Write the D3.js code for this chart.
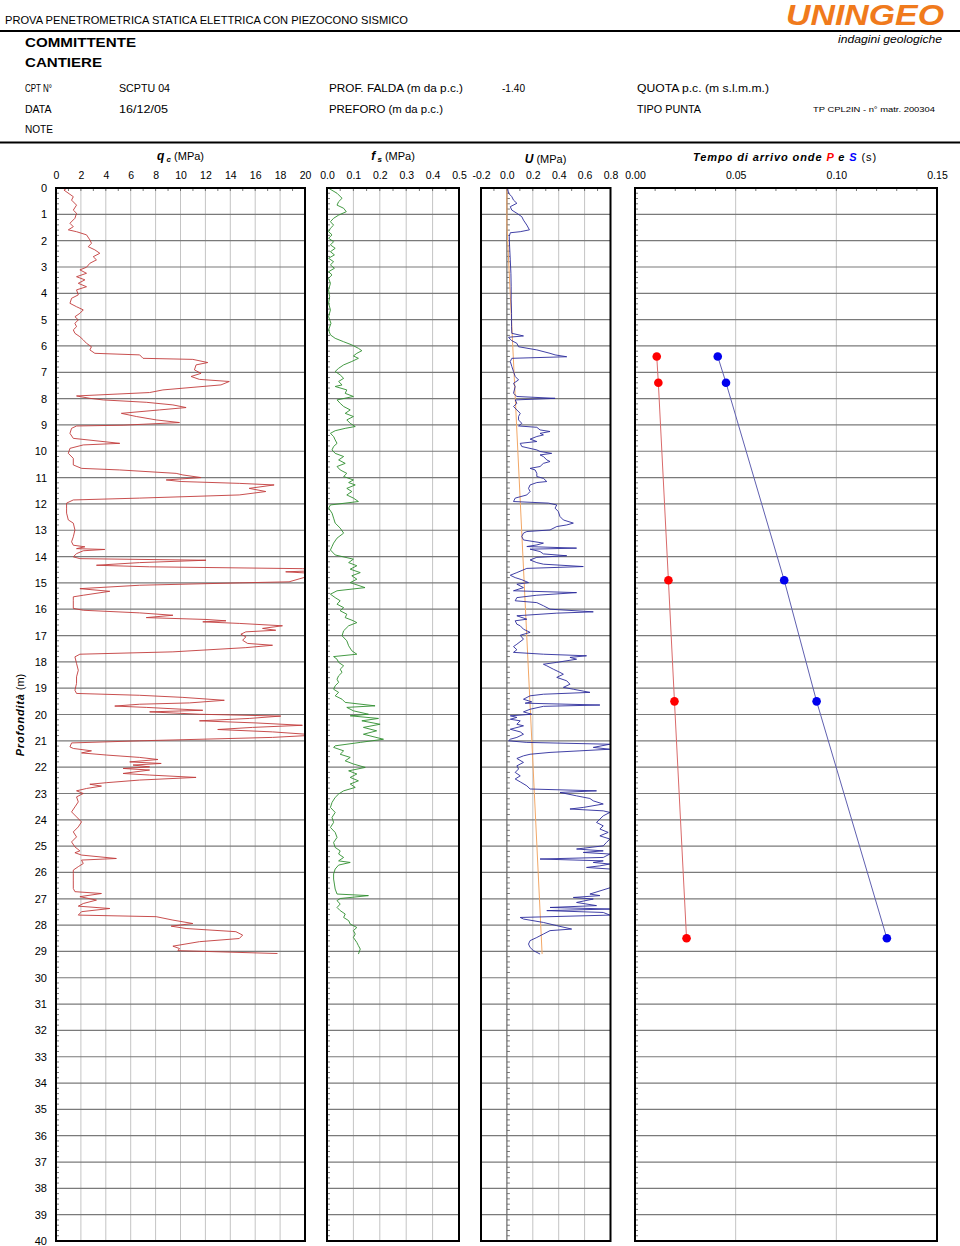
<!DOCTYPE html>
<html><head><meta charset="utf-8">
<script src="https://cdn.jsdelivr.net/npm/d3@7"></script>
<style>
body{margin:0;background:#fff}
svg{display:block}
text{font-family:"Liberation Sans",Arial,Helvetica,sans-serif;fill:#000}
</style>
</head><body>
<svg id="chart" width="960" height="1246"></svg>
<script>
// ---------------- DATA ----------------
const depthTickLabels = d3.range(0, 41);
const qcTickLabels = ["0","2","4","6","8","10","12","14","16","18","20"];
const fsTickLabels = ["0.0","0.1","0.2","0.3","0.4","0.5"];
const uTickLabels = ["-0.2","0.0","0.2","0.4","0.6","0.8"];
const tTickLabels = ["0.00","0.05","0.10","0.15"];

const qcDepth = [0.00,0.08,0.33,0.46,0.65,0.84,0.96,1.15,1.34,1.47,1.59,1.66,1.78,1.97,2.10,2.23,2.35,2.48,2.61,2.73,2.86,3.01,3.11,3.24,3.37,3.49,3.62,3.75,3.87,4.06,4.19,4.38,4.51,4.63,4.76,4.89,5.01,5.14,5.27,5.39,5.52,5.65,5.77,5.90,6.03,6.15,6.28,6.34,6.47,6.51,6.63,6.72,6.91,7.04,7.16,7.27,7.35,7.48,7.67,7.77,7.90,7.99,8.05,8.14,8.24,8.34,8.43,8.56,8.68,8.81,8.91,9.01,9.04,9.13,9.32,9.51,9.70,9.76,9.89,10.08,10.27,10.52,10.65,10.71,10.84,10.90,11.00,11.09,11.15,11.22,11.28,11.41,11.53,11.66,11.78,11.85,11.97,12.16,12.35,12.61,12.73,12.99,13.25,13.44,13.57,13.63,13.70,13.73,13.78,13.89,14.01,14.08,14.14,14.23,14.33,14.39,14.46,14.52,14.58,14.65,14.96,15.00,15.09,15.22,15.32,15.47,15.53,15.66,15.97,16.04,16.14,16.23,16.32,16.39,16.44,16.48,16.54,16.63,16.73,16.80,16.86,16.95,17.05,17.18,17.30,17.37,17.46,17.62,17.71,17.81,18.06,18.32,18.57,18.82,19.08,19.20,19.27,19.35,19.46,19.56,19.61,19.68,19.73,19.84,19.90,19.99,20.06,20.15,20.24,20.32,20.41,20.49,20.57,20.66,20.78,20.87,21.00,21.08,21.23,21.29,21.38,21.46,21.54,21.63,21.71,21.80,21.86,21.92,21.99,22.05,22.11,22.24,22.30,22.39,22.49,22.59,22.65,22.72,22.81,22.90,23.00,23.13,23.32,23.51,23.70,23.89,24.08,24.27,24.46,24.65,24.84,25.03,25.18,25.25,25.34,25.47,25.53,25.66,25.78,25.91,26.04,26.29,26.61,26.73,26.80,26.92,27.05,27.18,27.28,27.37,27.49,27.62,27.68,27.81,27.94,28.04,28.13,28.25,28.38,28.51,28.63,28.80,28.89,28.97,29.08];
const qcValue = [0.90,0.64,1.39,1.25,1.65,1.39,1.65,1.52,1.12,1.39,0.99,1.65,2.45,2.72,2.85,2.59,3.12,3.52,2.99,3.25,2.72,2.45,1.92,2.45,1.65,2.32,1.79,2.45,1.65,1.79,1.25,1.12,1.65,2.19,1.92,1.52,1.79,1.52,1.65,1.39,1.52,1.92,2.19,2.45,2.85,2.72,3.12,6.72,6.99,10.99,12.19,11.25,11.12,11.65,10.85,11.52,13.92,13.25,8.59,7.52,1.65,2.72,3.79,7.25,9.39,10.45,8.32,5.25,6.45,8.05,9.92,5.39,1.65,1.25,1.12,1.39,5.12,2.19,1.12,0.99,1.39,1.39,2.05,5.12,9.65,10.19,11.65,8.85,10.05,14.72,17.52,15.52,16.85,14.72,6.72,1.39,0.85,0.85,0.85,0.99,1.39,1.52,1.39,1.25,1.39,2.32,1.65,3.92,2.19,1.65,1.39,1.92,12.05,6.72,3.25,7.52,19.79,22.0,18.45,21.0,18.72,14.72,6.72,1.92,4.32,2.19,1.39,1.39,1.39,2.19,6.72,9.39,7.25,12.05,13.65,11.79,14.72,18.19,16.59,17.65,15.25,14.85,15.25,14.99,15.39,17.39,15.25,9.39,1.92,1.52,1.65,1.79,1.65,1.65,1.52,1.65,6.72,10.19,13.52,10.72,6.72,4.72,7.25,11.79,7.52,11.52,18.05,15.52,11.52,16.05,19.79,15.79,12.99,17.39,21.0,17.39,6.72,1.25,1.12,1.39,2.85,2.05,4.05,6.72,8.19,5.92,8.45,6.19,7.52,5.39,7.52,5.39,7.52,11.25,6.72,4.05,2.72,3.65,2.45,1.65,2.19,1.65,1.79,1.52,1.25,1.65,2.05,1.79,1.39,1.65,1.25,1.52,1.92,1.52,2.05,4.85,2.05,2.19,1.79,1.39,1.39,1.39,1.39,1.52,3.65,1.92,3.25,2.19,1.79,4.32,2.05,1.79,8.05,9.39,10.99,9.25,10.45,14.45,14.99,14.72,11.52,9.39,9.92,9.79,17.79];

const fsDepth = [0.01,0.20,0.39,0.52,0.65,0.77,0.90,1.03,1.15,1.28,1.41,1.53,1.66,1.78,1.91,2.04,2.16,2.29,2.42,2.54,2.67,2.80,2.92,3.05,3.18,3.30,3.43,3.62,3.87,4.13,4.38,4.63,4.89,5.14,5.39,5.58,5.71,5.84,5.96,6.09,6.18,6.28,6.38,6.47,6.59,6.72,6.85,6.97,7.10,7.23,7.35,7.48,7.54,7.67,7.80,7.92,8.05,8.18,8.30,8.43,8.56,8.68,8.81,8.94,9.06,9.13,9.22,9.32,9.44,9.57,9.70,9.82,9.95,10.08,10.20,10.33,10.46,10.58,10.71,10.84,10.96,11.09,11.19,11.28,11.41,11.53,11.66,11.78,11.91,12.04,12.16,12.35,12.54,12.73,12.92,13.11,13.30,13.49,13.62,13.75,13.94,14.10,14.23,14.35,14.48,14.61,14.73,14.86,14.99,15.18,15.30,15.43,15.56,15.68,15.81,15.94,16.06,16.19,16.32,16.44,16.51,16.63,16.82,17.01,17.20,17.39,17.58,17.71,17.80,17.90,18.02,18.15,18.28,18.40,18.53,18.66,18.78,18.91,19.04,19.16,19.29,19.42,19.54,19.67,19.73,19.86,19.99,20.05,20.15,20.24,20.37,20.49,20.62,20.75,20.94,21.06,21.19,21.25,21.38,21.51,21.63,21.76,21.88,22.01,22.14,22.26,22.39,22.52,22.64,22.77,22.90,23.02,23.15,23.34,23.53,23.72,23.91,24.10,24.29,24.48,24.67,24.86,25.05,25.18,25.30,25.43,25.56,25.62,25.72,25.87,26.06,26.25,26.44,26.63,26.82,26.88,26.99,27.07,27.20,27.33,27.45,27.58,27.71,27.83,27.96,28.09,28.21,28.34,28.47,28.66,28.78,28.91,29.10];
const fsValue = [0.006,0.038,0.057,0.044,0.038,0.063,0.073,0.044,0.025,0.013,0.025,0.013,0.006,0.019,0.006,0.025,0.013,0.031,0.013,0.028,0.006,0.025,0.013,0.028,0.006,0.019,0.006,0.013,0.006,0.010,0.006,0.013,0.006,0.015,0.006,0.013,0.031,0.063,0.094,0.119,0.132,0.113,0.100,0.119,0.094,0.063,0.044,0.031,0.050,0.063,0.044,0.057,0.031,0.075,0.069,0.100,0.038,0.050,0.063,0.088,0.069,0.100,0.075,0.088,0.107,0.069,0.031,0.013,0.025,0.031,0.038,0.025,0.019,0.031,0.063,0.044,0.069,0.038,0.050,0.075,0.063,0.100,0.082,0.107,0.075,0.094,0.075,0.100,0.119,0.013,0.006,0.019,0.025,0.031,0.050,0.063,0.038,0.025,0.019,0.013,0.031,0.100,0.082,0.113,0.088,0.126,0.094,0.113,0.088,0.144,0.038,0.013,0.031,0.050,0.038,0.063,0.050,0.075,0.069,0.100,0.113,0.082,0.063,0.057,0.075,0.082,0.094,0.113,0.025,0.038,0.044,0.063,0.050,0.057,0.044,0.038,0.044,0.031,0.025,0.044,0.031,0.057,0.069,0.182,0.075,0.100,0.157,0.088,0.195,0.132,0.201,0.138,0.188,0.138,0.214,0.126,0.031,0.025,0.063,0.050,0.088,0.069,0.100,0.145,0.082,0.113,0.088,0.119,0.088,0.107,0.063,0.044,0.031,0.019,0.013,0.031,0.019,0.025,0.013,0.031,0.038,0.025,0.031,0.050,0.044,0.063,0.044,0.088,0.044,0.031,0.025,0.025,0.028,0.031,0.038,0.157,0.050,0.038,0.050,0.038,0.050,0.069,0.063,0.082,0.088,0.113,0.100,0.107,0.100,0.113,0.119,0.126,0.119];

const uDepth = [0.01,0.20,0.33,0.46,0.58,0.71,0.84,0.96,1.09,1.22,1.41,1.59,1.66,1.70,1.85,2.23,2.73,3.24,3.75,4.25,4.76,5.27,5.52,5.62,5.67,5.75,5.80,5.90,6.03,6.15,6.28,6.34,6.41,6.47,6.59,6.78,6.97,7.16,7.29,7.42,7.54,7.80,7.92,7.99,8.05,8.18,8.30,8.43,8.56,8.68,8.81,8.94,9.04,9.09,9.19,9.25,9.32,9.38,9.44,9.54,9.63,9.70,9.82,9.95,10.01,10.08,10.14,10.20,10.33,10.39,10.46,10.58,10.65,10.71,10.84,10.96,11.03,11.15,11.19,11.28,11.41,11.53,11.66,11.78,11.91,11.97,12.04,12.16,12.29,12.48,12.61,12.73,12.80,12.86,12.99,13.05,13.11,13.24,13.37,13.49,13.56,13.62,13.68,13.72,13.81,13.90,13.97,14.03,14.13,14.23,14.29,14.38,14.45,14.61,14.71,14.80,14.88,14.99,15.05,15.18,15.30,15.37,15.47,15.56,15.68,15.75,15.87,16.00,16.10,16.15,16.25,16.38,16.44,16.57,16.63,16.76,16.88,16.99,17.14,17.33,17.42,17.54,17.64,17.71,17.77,17.83,17.90,18.02,18.09,18.15,18.28,18.40,18.47,18.59,18.72,18.85,18.97,19.04,19.16,19.23,19.29,19.42,19.52,19.57,19.64,19.69,19.80,19.90,19.99,20.05,20.11,20.18,20.24,20.37,20.43,20.56,20.66,20.75,20.87,20.94,21.00,21.06,21.13,21.25,21.32,21.38,21.44,21.51,21.57,21.67,21.82,21.95,22.07,22.20,22.33,22.45,22.56,22.71,22.83,22.90,22.96,23.09,23.19,23.28,23.40,23.53,23.59,23.66,23.72,23.85,24.10,24.23,24.35,24.48,24.61,24.73,24.86,24.99,25.11,25.18,25.24,25.30,25.43,25.49,25.56,25.62,25.68,25.75,25.81,25.87,26.00,26.50,26.82,26.88,26.95,27.01,27.14,27.26,27.33,27.39,27.45,27.52,27.62,27.71,27.77,27.90,28.02,28.15,28.21,28.34,28.47,28.59,28.72,28.85,28.97,29.10];
const uValue = [0.005,0.013,0.038,0.051,0.077,0.026,0.038,0.077,0.115,0.128,0.154,0.174,0.103,0.026,0.018,0.021,0.026,0.031,0.033,0.033,0.036,0.036,0.038,0.128,0.013,0.026,0.038,0.077,0.090,0.231,0.333,0.372,0.462,0.038,0.026,0.038,0.051,0.064,0.090,0.051,0.064,0.051,0.077,0.372,0.064,0.077,0.051,0.077,0.103,0.090,0.090,0.115,0.090,0.231,0.256,0.333,0.256,0.282,0.231,0.179,0.231,0.103,0.115,0.231,0.256,0.346,0.256,0.282,0.308,0.333,0.282,0.256,0.179,0.218,0.231,0.231,0.282,0.308,0.231,0.179,0.167,0.179,0.154,0.064,0.051,0.321,0.385,0.372,0.397,0.410,0.436,0.513,0.462,0.385,0.333,0.154,0.128,0.115,0.128,0.282,0.231,0.154,0.538,0.179,0.256,0.282,0.462,0.231,0.179,0.231,0.282,0.590,0.154,0.077,0.026,0.064,0.115,0.167,0.077,0.128,0.051,0.538,0.231,0.077,0.064,0.231,0.282,0.333,0.667,0.385,0.077,0.154,0.064,0.077,0.103,0.128,0.179,0.103,0.128,0.077,0.051,0.077,0.051,0.282,0.615,0.487,0.538,0.385,0.282,0.308,0.359,0.410,0.436,0.385,0.462,0.487,0.436,0.513,0.641,0.282,0.179,0.128,0.192,0.141,0.718,0.282,0.179,0.128,0.192,0.026,0.077,0.026,0.103,0.077,0.128,0.026,0.103,0.128,0.077,0.026,0.013,0.154,0.795,0.667,0.795,0.564,0.333,0.179,0.128,0.077,0.128,0.077,0.090,0.064,0.103,0.064,0.103,0.154,0.179,0.692,0.410,0.538,0.641,0.667,0.744,0.590,0.487,0.744,0.795,0.744,0.692,0.744,0.718,0.782,0.718,0.795,0.769,0.744,0.538,0.744,0.590,0.795,0.744,0.256,0.744,0.667,0.795,0.718,0.615,0.795,0.850,0.850,0.641,0.718,0.513,0.667,0.538,0.692,0.333,0.795,0.308,0.744,0.795,0.103,0.128,0.282,0.385,0.500,0.333,0.282,0.231,0.179,0.167,0.179,0.205,0.256];

const hydroDepth = [0, 1.4, 29.1];
const hydroValue = [0, 0, 0.272];

const seisDepth = [6.4, 7.4, 14.9, 19.5, 28.5];
const tP = [0.0108, 0.0116, 0.0166, 0.0196, 0.0256];
const tS = [0.0411, 0.0452, 0.0741, 0.0902, 0.1251];

// ---------------- LAYOUT ----------------
const svg = d3.select("#chart");
const FONT = '"Liberation Sans",Arial,Helvetica,sans-serif';
const y = d3.scaleLinear().domain([0, 40]).range([188, 1241]);

// Header
function htext(str, x, yy, opts = {}) {
  const t = svg.append("text").attr("x", x).attr("y", yy)
    .attr("font-size", opts.size || 10.5)
    .attr("font-weight", opts.weight || "normal")
    .attr("font-style", opts.style || "normal")
    .attr("text-anchor", opts.anchor || "start")
    .style("fill", opts.fill || "#000")
    .text(str);
  if (opts.len) t.attr("textLength", opts.len).attr("lengthAdjust", "spacingAndGlyphs");
  return t;
}
htext("PROVA PENETROMETRICA STATICA ELETTRICA CON PIEZOCONO SISMICO", 5, 24, {size: 11.5, len: 403});
htext("UNINGEO", 786, 25, {size: 29, weight: "bold", style: "italic", fill: "#f07a1c", len: 158});
svg.append("line").attr("x1", 0).attr("x2", 960).attr("y1", 31).attr("y2", 31).attr("stroke", "#000").attr("stroke-width", 2);
htext("indagini geologiche", 838, 43, {size: 11.5, style: "italic", len: 104});
htext("COMMITTENTE", 25, 47, {size: 13, weight: "bold", len: 111});
htext("CANTIERE", 25, 66.5, {size: 13, weight: "bold", len: 77});
htext("CPT N°", 25, 92, {size: 10.5, len: 27});
htext("SCPTU 04", 119, 92, {size: 10.5, len: 51});
htext("PROF. FALDA (m da p.c.)", 329, 92, {size: 10.5, len: 134});
htext("-1.40", 502, 92, {size: 10.5, len: 23});
htext("QUOTA p.c. (m s.l.m.m.)", 637, 92, {size: 10.5, len: 132});
htext("DATA", 25, 112.5, {size: 10.5, len: 26.5});
htext("16/12/05", 119, 112.5, {size: 10.5, len: 49});
htext("PREFORO (m da p.c.)", 329, 112.5, {size: 10.5, len: 114});
htext("TIPO PUNTA", 637, 112.5, {size: 10.5, len: 64});
htext("TP CPL2IN - n° matr. 200304", 813, 112, {size: 8, len: 122});
htext("NOTE", 25, 132.5, {size: 10.5, len: 28});
svg.append("line").attr("x1", 0).attr("x2", 960).attr("y1", 142.5).attr("y2", 142.5).attr("stroke", "#000").attr("stroke-width", 2);

// Panels
const panels = [
  {key: "qc", x0: 56, x1: 305, domain: [0, 20], labels: qcTickLabels, grid: d3.range(2, 20, 2), minor: d3.range(1, 20, 1), axisAt: 0},
  {key: "fs", x0: 327, x1: 459, domain: [0, 0.5], labels: fsTickLabels, grid: [0.1, 0.2, 0.3, 0.4], minor: d3.range(0.05, 0.5, 0.05), axisAt: 0},
  {key: "u", x0: 481, x1: 610.5, domain: [-0.2, 0.8], labels: uTickLabels, grid: [0, 0.2, 0.4, 0.6], minor: d3.range(-0.1, 0.8, 0.1), axisAt: 0},
  {key: "t", x0: 635, x1: 937, domain: [0, 0.15], labels: tTickLabels, grid: [0.05, 0.10], minor: d3.range(0.01, 0.15, 0.01), axisAt: 0}
];
panels.forEach(p => {
  p.x = d3.scaleLinear().domain(p.domain).range([p.x0, p.x1]);
  const g = svg.append("g");
  p.g = g;
  svg.append("clipPath").attr("id", "clip-" + p.key)
    .append("rect").attr("x", p.x0).attr("y", y(0)).attr("width", p.x1 - p.x0).attr("height", y(40) - y(0));
  g.selectAll(".vg").data(p.grid).join("line")
    .attr("x1", d => p.x(d)).attr("x2", d => p.x(d))
    .attr("y1", y(0)).attr("y2", y(40))
    .attr("stroke", "#c4c4c4").attr("stroke-width", 1);
  g.selectAll(".hg").data(d3.range(1, 40)).join("line")
    .attr("x1", p.x0).attr("x2", p.x1)
    .attr("y1", d => y(d)).attr("y2", d => y(d))
    .attr("stroke", "#7a7a7a").attr("stroke-width", 1.2);
  const ax = p.x(p.axisAt);
  g.selectAll(".mt").data(d3.range(0, 40.01, 0.2).filter(d => Math.abs(d - Math.round(d)) > 0.01)).join("line")
    .attr("x1", ax).attr("x2", ax + 3)
    .attr("y1", d => y(d)).attr("y2", d => y(d))
    .attr("stroke", "#555").attr("stroke-width", 0.8);
  if (p.key === "u") {
    g.append("line").attr("x1", ax).attr("x2", ax).attr("y1", y(0)).attr("y2", y(40))
      .attr("stroke", "#666").attr("stroke-width", 1);
  }
  g.selectAll(".tt").data(p.minor).join("line")
    .attr("x1", d => p.x(d)).attr("x2", d => p.x(d))
    .attr("y1", y(0)).attr("y2", y(0) + 3)
    .attr("stroke", "#555").attr("stroke-width", 0.8);
  const tickVals = p.labels.map(Number);
  const axis = d3.axisTop(p.x).tickValues(tickVals).tickSize(0).tickPadding(0)
    .tickFormat((d, i) => p.labels[i]);
  const ag = svg.append("g").attr("transform", "translate(0,179)").call(axis);
  ag.select(".domain").remove();
  ag.selectAll("text").attr("font-family", FONT).attr("font-size", 10.5).attr("dy", 0).style("fill", "#000");
});

// Depth axis labels
const yAxis = d3.axisLeft(y).tickValues(depthTickLabels).tickSize(0).tickPadding(0).tickFormat(d3.format("d"));
const yg = svg.append("g").attr("transform", "translate(47,0)").call(yAxis);
yg.select(".domain").remove();
yg.selectAll("text").attr("font-family", FONT).attr("font-size", 11).style("fill", "#000");

// Y title
const yt = svg.append("text").attr("transform", "translate(24,715) rotate(-90)")
  .attr("text-anchor", "middle").attr("font-size", 11);
yt.append("tspan").attr("font-weight", "bold").attr("font-style", "italic").attr("letter-spacing", 0.8).text("Profondità");
yt.append("tspan").text(" (m)");

// Panel titles
function title(cx, yy, parts) {
  const t = svg.append("text").attr("x", cx).attr("y", yy).attr("text-anchor", "middle").attr("font-size", 11);
  parts.forEach(pt => {
    const s = t.append("tspan").text(pt.t);
    if (pt.b) s.attr("font-weight", "bold");
    if (pt.i) s.attr("font-style", "italic");
    if (pt.fill) s.style("fill", pt.fill);
    if (pt.size) s.attr("font-size", pt.size);
    if (pt.dy) s.attr("dy", pt.dy);
    if (pt.ls) s.attr("letter-spacing", pt.ls);
  });
  return t;
}
title(180.5, 160, [{t: "q", b: 1, i: 1, size: 12}, {t: " c", b: 1, i: 1, size: 8, dy: 2}, {t: " (MPa)", dy: -2}]);
title(393, 160, [{t: "f", b: 1, i: 1, size: 12}, {t: " s", b: 1, i: 1, size: 8, dy: 2}, {t: "  (MPa)", dy: -2}]);
title(545.5, 163, [{t: "U", b: 1, i: 1, size: 12}, {t: "  (MPa)"}]);
title(785, 161, [{t: "Tempo di arrivo onde ", b: 1, i: 1, ls: 0.9}, {t: "P", b: 1, i: 1, fill: "#ff0000", ls: 0.9}, {t: " e ", b: 1, i: 1, ls: 0.9}, {t: "S", b: 1, i: 1, fill: "#0000ff", ls: 0.9}, {t: " (s)", ls: 0.9}]);

// Traces
const pq = panels[0], pf = panels[1], pu = panels[2], pt = panels[3];
const mk = (sx) => d3.line().x(d => sx(d[1])).y(d => y(d[0]));

svg.append("path").attr("clip-path", "url(#clip-qc)")
  .datum(d3.zip(qcDepth, qcValue)).attr("d", mk(pq.x))
  .attr("fill", "none").attr("stroke", "#c23b3b").attr("stroke-width", 0.9);

svg.append("path").attr("clip-path", "url(#clip-fs)")
  .datum(d3.zip(fsDepth, fsValue)).attr("d", mk(pf.x))
  .attr("fill", "none").attr("stroke", "#2f8f2f").attr("stroke-width", 0.9);

svg.append("path").attr("clip-path", "url(#clip-u)")
  .datum(d3.zip(hydroDepth, hydroValue)).attr("d", mk(pu.x))
  .attr("fill", "none").attr("stroke", "#f2a766").attr("stroke-width", 1);

svg.append("path").attr("clip-path", "url(#clip-u)")
  .datum(d3.zip(uDepth, uValue)).attr("d", mk(pu.x))
  .attr("fill", "none").attr("stroke", "#2b2b9c").attr("stroke-width", 0.9);

// Seismic
svg.append("path").datum(d3.zip(seisDepth, tP)).attr("d", mk(pt.x))
  .attr("fill", "none").attr("stroke", "#d96a6a").attr("stroke-width", 1);
svg.append("path").datum(d3.zip(seisDepth, tS)).attr("d", mk(pt.x))
  .attr("fill", "none").attr("stroke", "#6060b0").attr("stroke-width", 1);
svg.selectAll(".pp").data(d3.zip(seisDepth, tP)).join("circle")
  .attr("cx", d => pt.x(d[1])).attr("cy", d => y(d[0])).attr("r", 4.3).attr("fill", "#ff0000");
svg.selectAll(".sp").data(d3.zip(seisDepth, tS)).join("circle")
  .attr("cx", d => pt.x(d[1])).attr("cy", d => y(d[0])).attr("r", 4.3).attr("fill", "#0000ee");

// Frames
panels.forEach(p => {
  svg.append("rect").attr("x", p.x0).attr("y", y(0)).attr("width", p.x1 - p.x0).attr("height", y(40) - y(0))
    .attr("fill", "none").attr("stroke", "#000").attr("stroke-width", 2);
});
</script>
</body></html>
